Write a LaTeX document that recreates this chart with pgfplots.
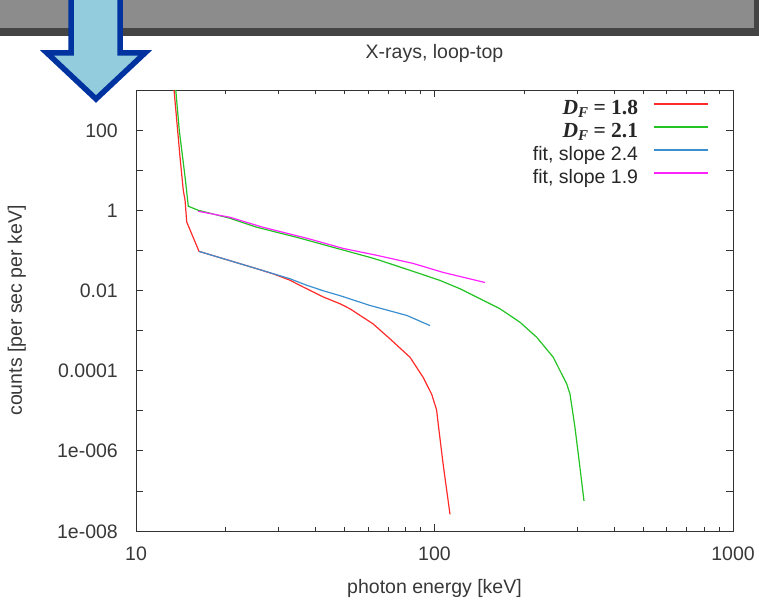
\documentclass[border=0pt]{standalone}
\usepackage{pgfplots}
\pgfplotsset{compat=1.18}
\usepackage{fontspec}
\setmainfont{Liberation Sans}
\newfontfamily\serif{Liberation Serif}
\definecolor{cred}{HTML}{FF2A2A}
\definecolor{cgreen}{HTML}{22C322}
\definecolor{cblue}{HTML}{3C8FCF}
\definecolor{cmag}{HTML}{FF22FF}
\definecolor{txt}{HTML}{383838}
\definecolor{banner}{HTML}{8C8C8C}
\definecolor{bannerdark}{HTML}{444444}
\definecolor{arrowfill}{HTML}{93CDDD}
\definecolor{arrowline}{HTML}{0033A0}
\newcommand\ff{\fontsize{19.5}{23}\selectfont}
\newcommand\DF[1]{{\fontsize{21.5}{23}\serif\bfseries\itshape D\raisebox{-0.35ex}{\fontsize{15}{15}\selectfont F}\upshape\ =\ #1}}

\begin{document}
\begin{tikzpicture}
\useasboundingbox (0pt,0pt) rectangle (759pt,601pt);
\begin{scope}
\clip (0pt,0pt) rectangle (759pt,601pt);
\fill[bannerdark] (-5pt,565pt) rectangle (759pt,606pt);
\fill[banner] (-5pt,573pt) rectangle (754pt,606pt);
\filldraw[fill=arrowfill, draw=arrowline, line width=5.5pt, line join=miter]
  (71pt,611pt) -- (71pt,548pt) -- (47pt,548pt) -- (96pt,502pt) -- (145pt,548pt) -- (120pt,548pt) -- (120pt,611pt);
\end{scope}

\begin{axis}[
  at={(136pt,70pt)}, anchor=south west,
  scale only axis, width=597pt, height=441pt,
  xmode=log, ymode=log,
  xmin=10, xmax=1000, ymin=1e-8, ymax=1000,
  xtick={10,100,1000}, xticklabels={10,100,1000},
  ytick={1e-8,1e-7,1e-6,1e-5,1e-4,1e-3,1e-2,1e-1,1,10,100,1000},
  yticklabels={1e-008,,1e-006,,0.0001,,0.01,,1,,100,},
  yminorticks=false,
  tick pos=both, tick align=inside,
  major tick length=7pt, minor tick length=4pt,
  axis line style={color=black!80, line width=0.9pt},
  tick style={color=black!80, line width=0.8pt},
  ticklabel style={font=\ff, text=txt},
  /pgf/number format/assume math mode=true,
  xticklabel style={anchor=base, yshift=-29pt},
  yticklabel style={anchor=base east, inner sep=0pt, xshift=-18pt, yshift=-7pt},
  title={X-rays, loop-top},
  title style={font=\ff, text=txt, at={(axis description cs:0.5,1.0567)}, anchor=base},
  xlabel={photon energy [keV]},
  xlabel style={font=\ff, text=txt, at={(axis description cs:0.5,-0.1428)}, anchor=base},
  ylabel={counts [per sec per keV]},
  ylabel style={font=\ff, text=txt, at={(axis description cs:-0.191,0.5)}, anchor=base},
  legend style={at={(axis description cs:0.9598,0.975)}, anchor=north east,
    draw=none, fill=none, font=\ff, inner sep=0pt, row sep=6pt,
    nodes={inner sep=0pt, text height=13pt, text depth=4pt, text=black!85},
    /tikz/every odd column/.append style={column sep=15pt}},
  legend cell align=right,
  legend plot pos=right,
  legend image code/.code={\draw[#1, line width=1.7pt] (0pt,5.5pt) -- (54pt,5.5pt);},
]
\addplot[cred, line width=1.2pt] coordinates {
(13.41,1000) (14.04,21.5) (14.40,3.16) (14.6,1.78) (14.79,0.51) (16.26,0.0944)
(19.61,0.062) (25.37,0.0349) (29.0,0.0255) (32.8,0.0180) (36.3,0.0122)
(42.4,0.00688) (48.3,0.00464) (52.12,0.00348) (62.23,0.00147) (70.95,6.2e-4) (82.8,2.15e-4)
(91.6,6.8e-5) (97.8,2.6e-5) (101.6,1.06e-5) (102.9,4.7e-6) (106.9,4.6e-7) (112.7,2.6e-8)
};
\addlegendentry{\DF{1.8}}
\addplot[cgreen, line width=1.2pt] coordinates {
(13.59,1000) (13.96,100) (14.6,6.8) (14.97,1.26) (16.16,1.0) (20.65,0.631)
(25.43,0.376) (34.63,0.211) (47.15,0.112) (60.81,0.0668) (65.68,0.0562)
(89.4,0.0262) (104.3,0.0178) (121.7,0.01103) (142.1,0.0062) (165.7,0.00349)
(193.4,0.00161) (220,6.8e-4) (250,2.15e-4) (277.3,4.65e-5) (284.4,2.6e-5)
(295.6,3.76e-6) (307.2,3.76e-7) (316.8,5.62e-8)
};
\addlegendentry{\DF{2.1}}
\addplot[cblue, line width=1.2pt] coordinates {
(16.26,0.0944) (19.61,0.062) (25.37,0.0349) (32.8,0.0196) (37.3,0.0135)
(42.4,0.0098) (48.3,0.0074) (60.81,0.00422) (80.9,0.00237) (96.6,0.00133)
};
\addlegendentry{fit, slope 2.4}
\addplot[cmag, line width=1.2pt] coordinates {
(16.14,0.944) (20.65,0.668) (26.64,0.376) (37.41,0.2) (49.38,0.112)
(64.18,0.075) (84.7,0.0473) (106.8,0.0282) (147.6,0.0158)
};
\addlegendentry{fit, slope 1.9}
\end{axis}
\end{tikzpicture}
\end{document}
